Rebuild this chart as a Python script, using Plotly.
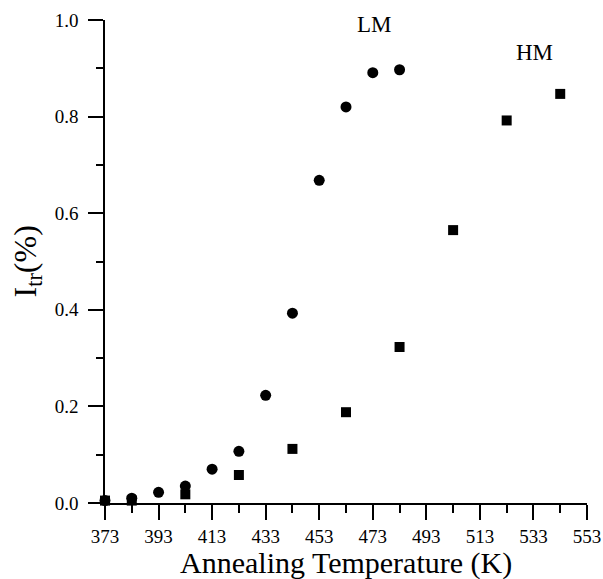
import plotly.graph_objects as go

lm_temp = [373, 383, 393, 403, 413, 423, 433, 443, 453, 463, 473, 483]
lm_itr = [0.005, 0.010, 0.022, 0.035, 0.070, 0.107, 0.223, 0.393, 0.668, 0.820, 0.891, 0.897]

hm_temp = [373, 383, 403, 423, 443, 463, 483, 503, 523, 543]
hm_itr = [0.005, 0.005, 0.018, 0.058, 0.112, 0.188, 0.323, 0.565, 0.792, 0.847]

labels = [("LM", 473.5, 0.99), ("HM", 533.5, 0.932)]

x_title = "Annealing Temperature (K)"
y_title = "I<sub>tr</sub>(%)"

FONT = "Liberation Serif, Times New Roman, serif"

fig = go.Figure()
fig.add_trace(go.Scatter(x=lm_temp, y=lm_itr, mode="markers", cliponaxis=False,
                         marker=dict(symbol="circle", size=11, color="black"), showlegend=False))
fig.add_trace(go.Scatter(x=hm_temp, y=hm_itr, mode="markers", cliponaxis=False,
                         marker=dict(symbol="square", size=10, color="black"), showlegend=False))

for text, x, y in labels:
    fig.add_annotation(x=x, y=y, text=text, showarrow=False,
                       font=dict(family=FONT, size=23, color="black"))

# axis titles
fig.add_annotation(xref="paper", yref="paper", x=0.5, y=0, xanchor="center", yanchor="middle",
                   yshift=-60, text=x_title, showarrow=False,
                   font=dict(family=FONT, size=30, color="black"))
fig.add_annotation(xref="paper", yref="paper", x=0, y=0.5, xanchor="center", yanchor="middle",
                   xshift=-78, textangle=-90, text=y_title, showarrow=False,
                   font=dict(family=FONT, size=32, color="black"))

fig.update_layout(
    width=603, height=579,
    margin=dict(l=105, r=16, t=20, b=76),
    paper_bgcolor="white", plot_bgcolor="white",
    font=dict(family=FONT, color="black"),
    xaxis=dict(range=[373, 553], tickmode="linear", tick0=373, dtick=20, automargin=False,
               ticks="outside", ticklen=15, tickwidth=1.5, tickcolor="black",
               showline=True, linecolor="black", linewidth=1.5,
               showgrid=False, zeroline=False,
               tickfont=dict(family=FONT, size=19), ticklabelstandoff=0,
               minor=dict(dtick=10, tick0=373, ticks="outside", ticklen=8, tickwidth=1.5, tickcolor="black", showgrid=False)),
    yaxis=dict(range=[0, 1.0], tickmode="linear", tick0=0, dtick=0.2, tickformat=".1f", automargin=False,
               ticks="outside", ticklen=15, tickwidth=1.5, tickcolor="black",
               showline=True, linecolor="black", linewidth=1.5,
               showgrid=False, zeroline=False,
               tickfont=dict(family=FONT, size=19), ticklabelstandoff=6,
               minor=dict(dtick=0.1, tick0=0, ticks="outside", ticklen=7, tickwidth=1.5, tickcolor="black", showgrid=False)),
)

fig.write_html("out.html")
